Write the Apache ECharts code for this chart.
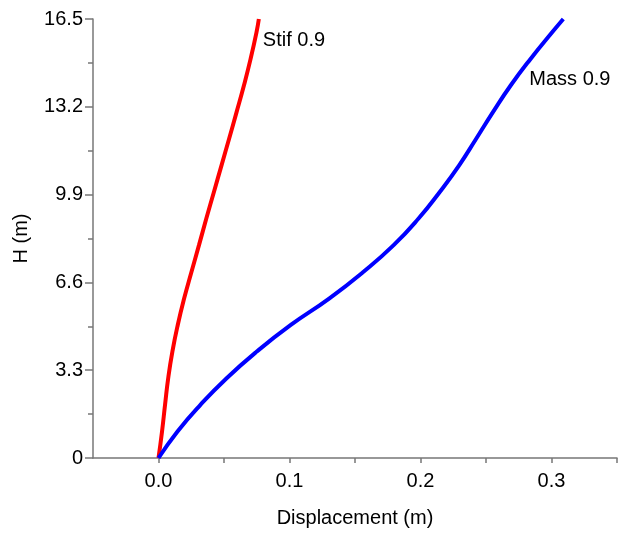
<!DOCTYPE html>
<html>
<head>
<meta charset="utf-8">
<script src="https://cdn.jsdelivr.net/npm/echarts@6/dist/echarts.min.js"></script>
<style>html,body{margin:0;padding:0;background:#fff}#c{width:618px;height:534px}</style>
</head>
<body>
<div id="c"></div>
<script>
// Heights (m)
var heights = [0, 1, 2, 3, 4, 5, 6, 7, 8, 9, 10, 11, 12, 13, 14, 15, 16, 16.5];
// Displacement (m) for each height
var stifDisp = [0, 0.0027, 0.005, 0.0074, 0.0106, 0.0147, 0.0196, 0.0252, 0.0309, 0.0365, 0.0423, 0.0481, 0.0539, 0.0596, 0.0652, 0.0703, 0.0748, 0.0766];
var massDisp = [0, 0.0145, 0.032, 0.052, 0.075, 0.101, 0.1305, 0.1565, 0.1795, 0.1985, 0.2147, 0.2295, 0.2425, 0.2553, 0.2688, 0.284, 0.3005, 0.309];
var seriesNames = ['Stif 0.9', 'Mass 0.9'];
var xTickLabels = [0, 0.1, 0.2, 0.3];
var xTickMarks = [0, 0.05, 0.1, 0.15, 0.2, 0.25, 0.3, 0.35];
var yTickLabels = [0, 3.3, 6.6, 9.9, 13.2, 16.5];

function pairs(xs, ys) { return xs.map(function (x, i) { return [x, ys[i]]; }); }

var font = 'Liberation Sans, Arial, sans-serif';
var fs = 20;
var chart = echarts.init(document.getElementById('c'), null, { renderer: 'canvas' });
chart.setOption({
  animation: false,
  backgroundColor: '#fff',
  grid: { left: 93, right: 1, top: 19, bottom: 76, containLabel: false },
  xAxis: {
    type: 'value', min: -0.05, max: 0.35,
    name: 'Displacement (m)', nameLocation: 'middle', nameGap: 50,
    nameTextStyle: { color: '#000', fontSize: fs, fontFamily: font },
    axisLine: { show: true, onZero: false, lineStyle: { color: '#777', width: 1.5 } },
    axisTick: { show: true, length: 5, customValues: xTickMarks, lineStyle: { color: '#777', width: 1.5 } },
    axisLabel: { customValues: xTickLabels, margin: 13, color: '#000', fontSize: fs, fontFamily: font,
      formatter: function (v) { return v.toFixed(1); } },
    splitLine: { show: false }
  },
  yAxis: {
    type: 'value', min: 0, max: 16.5, interval: 3.3,
    name: 'H (m)', nameLocation: 'middle', nameGap: 62,
    nameTextStyle: { color: '#000', fontSize: fs, fontFamily: font },
    axisLine: { show: true, onZero: false, lineStyle: { color: '#777', width: 1.5 } },
    axisTick: { show: true, length: 8, lineStyle: { color: '#777', width: 1.5 } },
    minorTick: { show: true, splitNumber: 2, length: 5, lineStyle: { color: '#777', width: 1.5 } },
    axisLabel: { customValues: yTickLabels, margin: 10, color: '#000', fontSize: fs, fontFamily: font,
      formatter: function (v) { return v === 0 ? '0' : v.toFixed(1); } },
    splitLine: { show: false }
  },
  series: [
    {
      name: seriesNames[0], type: 'line', data: pairs(stifDisp, heights),
      showSymbol: false, smooth: 0.5, clip: false,
      lineStyle: { color: '#ff0000', width: 4 },
      endLabel: { show: true, formatter: seriesNames[0], color: '#000', fontSize: fs, fontFamily: font,
        distance: 4, offset: [0, 21] }
    },
    {
      name: seriesNames[1], type: 'line', data: pairs(massDisp, heights),
      showSymbol: false, smooth: 0.5, clip: false,
      lineStyle: { color: '#0000ff', width: 4 },
      endLabel: { show: true, formatter: seriesNames[1], color: '#000', fontSize: fs, fontFamily: font,
        distance: 4, offset: [-38, 60] }
    }
  ]
});
</script>
</body>
</html>
